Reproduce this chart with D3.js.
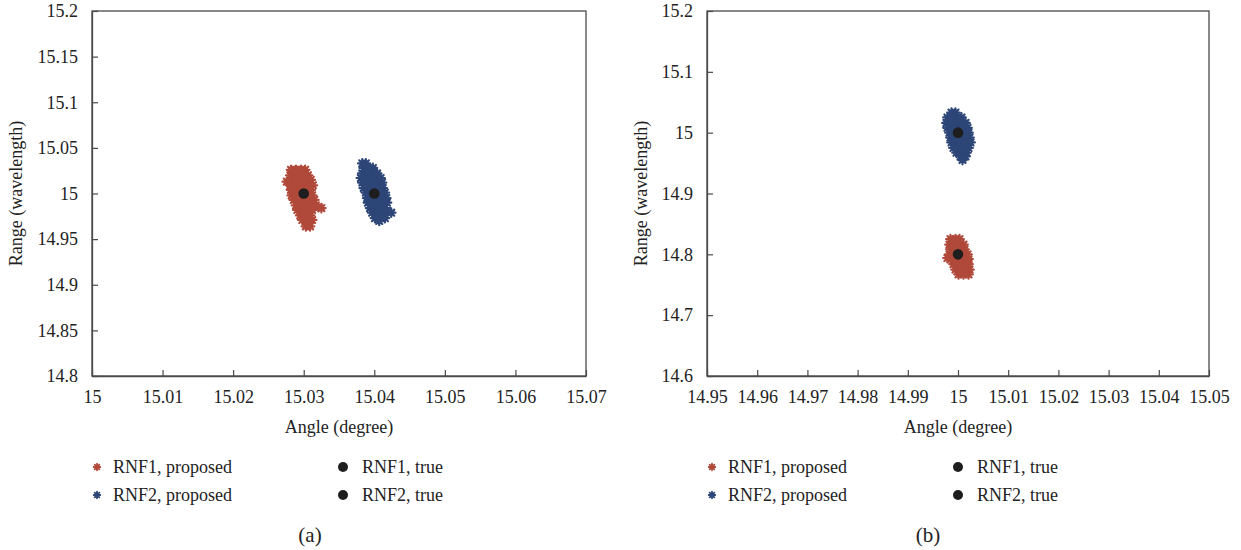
<!DOCTYPE html>
<html>
<head>
<meta charset="utf-8">
<script src="https://cdn.jsdelivr.net/npm/d3@7"></script>
<style>
  html, body { margin: 0; padding: 0; background: #fff; }
  svg text { font-family: "Liberation Serif", "Times New Roman", serif; fill: #222; }
</style>
</head>
<body>
<svg id="chart" width="1241" height="550"></svg>
<script>
// ---- Panel (a) ----
const xTicksA = [15, 15.01, 15.02, 15.03, 15.04, 15.05, 15.06, 15.07];
const xTickLabelsA = ["15", "15.01", "15.02", "15.03", "15.04", "15.05", "15.06", "15.07"];
const yTicksA = [14.8, 14.85, 14.9, 14.95, 15, 15.05, 15.1, 15.15, 15.2];
const yTickLabelsA = ["14.8", "14.85", "14.9", "14.95", "15", "15.05", "15.1", "15.15", "15.2"];

const rnf1ProposedA = [
  [15.0282, 15.026], [15.0289, 15.026], [15.0296, 15.026], [15.0302, 15.026],
  [15.0281, 15.020], [15.0288, 15.020], [15.0295, 15.020], [15.0302, 15.020], [15.0306, 15.020],
  [15.0283, 15.015], [15.0291, 15.015], [15.0298, 15.015], [15.0305, 15.015], [15.0310, 15.015],
  [15.0276, 15.013],
  [15.0281, 15.009], [15.0288, 15.009], [15.0295, 15.009], [15.0302, 15.009], [15.0309, 15.009], [15.0313, 15.009],
  [15.0282, 15.004], [15.0289, 15.004], [15.0296, 15.004], [15.0303, 15.004], [15.0310, 15.004],
  [15.0283, 14.998], [15.0291, 14.998], [15.0298, 14.998], [15.0305, 14.998], [15.0312, 14.998],
  [15.0286, 14.993], [15.0293, 14.993], [15.0300, 14.993], [15.0308, 14.993], [15.0315, 14.993],
  [15.0289, 14.987], [15.0296, 14.987], [15.0303, 14.987], [15.0310, 14.987], [15.0317, 14.987],
  [15.0321, 14.985], [15.0325, 14.984],
  [15.0291, 14.982], [15.0298, 14.982], [15.0305, 14.982], [15.0312, 14.982],
  [15.0295, 14.976], [15.0302, 14.976], [15.0309, 14.976],
  [15.0298, 14.971], [15.0305, 14.971], [15.0312, 14.971],
  [15.0303, 14.964], [15.0309, 14.964]
];
const rnf2ProposedA = [
  [15.0383, 15.033], [15.0388, 15.033],
  [15.0385, 15.028], [15.0391, 15.028], [15.0398, 15.028],
  [15.0383, 15.022], [15.0390, 15.022], [15.0397, 15.022], [15.0404, 15.022],
  [15.0381, 15.017], [15.0388, 15.017], [15.0395, 15.017], [15.0402, 15.017], [15.0409, 15.017],
  [15.0383, 15.012], [15.0390, 15.012], [15.0397, 15.012], [15.0404, 15.012], [15.0411, 15.012],
  [15.0385, 15.006], [15.0392, 15.006], [15.0400, 15.006], [15.0407, 15.006], [15.0412, 15.006],
  [15.0388, 15.001], [15.0395, 15.001], [15.0402, 15.001], [15.0409, 15.001], [15.0415, 15.001],
  [15.0390, 14.995], [15.0397, 14.995], [15.0404, 14.995], [15.0411, 14.995], [15.0417, 14.995],
  [15.0391, 14.990], [15.0398, 14.990], [15.0405, 14.990], [15.0412, 14.990], [15.0418, 14.990],
  [15.0394, 14.984], [15.0401, 14.984], [15.0408, 14.984], [15.0415, 14.984],
  [15.0418, 14.981],
  [15.0397, 14.979], [15.0404, 14.979], [15.0411, 14.979], [15.0424, 14.979],
  [15.0401, 14.973], [15.0408, 14.973], [15.0415, 14.973],
  [15.0407, 14.970]
];
const rnf1TrueA = [[15.03, 15.0]];
const rnf2TrueA = [[15.04, 15.0]];

// ---- Panel (b) ----
const xTicksB = [14.95, 14.96, 14.97, 14.98, 14.99, 15, 15.01, 15.02, 15.03, 15.04, 15.05];
const xTickLabelsB = ["14.95", "14.96", "14.97", "14.98", "14.99", "15", "15.01", "15.02", "15.03", "15.04", "15.05"];
const yTicksB = [14.6, 14.7, 14.8, 14.9, 15, 15.1, 15.2];
const yTickLabelsB = ["14.6", "14.7", "14.8", "14.9", "15", "15.1", "15.2"];

const rnf1ProposedB = [
  [14.9985, 14.825], [14.9995, 14.825], [15.0003, 14.825],
  [14.9983, 14.816], [14.9993, 14.816], [15.0003, 14.816], [15.0011, 14.816],
  [14.9985, 14.808], [14.9995, 14.808], [15.0005, 14.808], [15.0013, 14.808],
  [14.9983, 14.800], [14.9993, 14.800], [15.0003, 14.800], [15.0013, 14.800], [15.0019, 14.800],
  [14.9979, 14.794],
  [14.9985, 14.792], [14.9995, 14.792], [15.0005, 14.792], [15.0015, 14.792], [15.0021, 14.792],
  [14.9991, 14.784], [15.0001, 14.784], [15.0011, 14.784], [15.0021, 14.784],
  [14.9995, 14.775], [15.0005, 14.775], [15.0015, 14.775], [15.0023, 14.775],
  [15.0001, 14.767], [15.0011, 14.767], [15.0021, 14.767]
];
const rnf2ProposedB = [
  [14.9987, 15.033], [14.9995, 15.033],
  [14.9979, 15.025], [14.9989, 15.025], [14.9999, 15.025], [15.0007, 15.025],
  [14.9977, 15.016], [14.9987, 15.016], [14.9997, 15.016], [15.0007, 15.016], [15.0015, 15.016],
  [14.9979, 15.008], [14.9989, 15.008], [14.9999, 15.008], [15.0009, 15.008], [15.0019, 15.008],
  [14.9983, 15.000], [14.9993, 15.000], [15.0003, 15.000], [15.0013, 15.000], [15.0021, 15.000],
  [14.9985, 14.992], [14.9995, 14.992], [15.0005, 14.992], [15.0015, 14.992], [15.0023, 14.992],
  [14.9987, 14.984], [14.9997, 14.984], [15.0007, 14.984], [15.0017, 14.984], [15.0025, 14.984],
  [14.9991, 14.975], [15.0001, 14.975], [15.0011, 14.975], [15.0021, 14.975],
  [14.9997, 14.967], [15.0007, 14.967], [15.0017, 14.967],
  [15.0005, 14.961], [15.0015, 14.961],
  [15.0009, 14.955]
];
const rnf1TrueB = [[15.0, 14.8]];
const rnf2TrueB = [[15.0, 15.0]];

const seriesNames = ["RNF1, proposed", "RNF2, proposed", "RNF1, true", "RNF2, true"];
const red = "#b0493a";
const blue = "#2d4677";
const dark = "#1e1e1e";
const axisColor = "#4a4a4a";
const fontSize = 18;

const svg = d3.select("#chart");

// eight-armed asterisk used for the estimated positions
function asteriskPath(r) {
  const p = d3.path();
  for (let k = 0; k < 4; k++) {
    const a = k * Math.PI / 4;
    p.moveTo(-r * Math.cos(a), -r * Math.sin(a));
    p.lineTo(r * Math.cos(a), r * Math.sin(a));
  }
  return p.toString();
}

function drawPanel(cfg) {
  const g = svg.append("g");
  const x = d3.scaleLinear().domain(cfg.xDomain).range([cfg.left, cfg.right]);
  const y = d3.scaleLinear().domain(cfg.yDomain).range([cfg.bottom, cfg.top]);

  // frame
  g.append("rect")
    .attr("x", cfg.left).attr("y", cfg.top)
    .attr("width", cfg.right - cfg.left).attr("height", cfg.bottom - cfg.top)
    .attr("fill", "none").attr("stroke", axisColor).attr("stroke-width", 1.3);

  // bottom axis, ticks pointing inward
  const xAxis = d3.axisBottom(x).tickValues(cfg.xTicks)
    .tickFormat((d, i) => cfg.xLabels[i]).tickSizeInner(-6).tickSizeOuter(0).tickPadding(14);
  const gx = g.append("g").attr("transform", `translate(0,${cfg.bottom})`).call(xAxis);
  gx.select(".domain").attr("stroke", axisColor).attr("stroke-width", 1.3);
  gx.selectAll(".tick line").attr("stroke", axisColor).attr("stroke-width", 1.2);
  gx.selectAll(".tick text").style("font-size", fontSize + "px").attr("fill", "#222");

  // left axis, ticks pointing inward
  const yAxis = d3.axisLeft(y).tickValues(cfg.yTicks)
    .tickFormat((d, i) => cfg.yLabels[i]).tickSizeInner(-6).tickSizeOuter(0).tickPadding(14);
  const gy = g.append("g").attr("transform", `translate(${cfg.left},0)`).call(yAxis);
  gy.select(".domain").attr("stroke", axisColor).attr("stroke-width", 1.3);
  gy.selectAll(".tick line").attr("stroke", axisColor).attr("stroke-width", 1.2);
  gy.selectAll(".tick text").style("font-size", fontSize + "px").attr("fill", "#222");

  // axis titles
  g.append("text")
    .attr("x", (cfg.left + cfg.right) / 2).attr("y", cfg.bottom + 57)
    .attr("text-anchor", "middle").style("font-size", fontSize + "px")
    .text("Angle (degree)");
  g.append("text")
    .attr("transform", `translate(${cfg.left - cfg.yTitleOffset},${(cfg.top + cfg.bottom) / 2}) rotate(-90)`)
    .attr("text-anchor", "middle").style("font-size", fontSize + "px")
    .text("Range (wavelength)");

  const star = asteriskPath(4.3);
  const drawStars = (data, color) => {
    g.append("g").selectAll("path").data(data).join("path")
      .attr("d", star)
      .attr("transform", d => `translate(${x(d[0])},${y(d[1])})`)
      .attr("fill", "none").attr("stroke", color)
      .attr("stroke-width", 2.2).attr("stroke-linecap", "round");
  };
  drawStars(cfg.p1, red);
  drawStars(cfg.p2, blue);

  const drawDots = (data) => {
    g.append("g").selectAll("circle").data(data).join("circle")
      .attr("cx", d => x(d[0])).attr("cy", d => y(d[1]))
      .attr("r", 5.3).attr("fill", dark);
  };
  drawDots(cfg.t1);
  drawDots(cfg.t2);

  // legend
  const lg = g.append("g");
  const col1 = cfg.left + 5, col2 = cfg.left + 251;
  const rows = [cfg.bottom + 91, cfg.bottom + 119];
  const smallStar = asteriskPath(3.3);
  [[red, 0], [blue, 1]].forEach(([c, i]) => {
    lg.append("path").attr("d", smallStar)
      .attr("transform", `translate(${col1},${rows[i]})`)
      .attr("fill", "none").attr("stroke", c).attr("stroke-width", 1.8).attr("stroke-linecap", "round");
    lg.append("text").attr("x", col1 + 16).attr("y", rows[i] + 6)
      .style("font-size", fontSize + "px").text(seriesNames[i]);
  });
  [0, 1].forEach(i => {
    lg.append("circle").attr("cx", col2).attr("cy", rows[i]).attr("r", 5).attr("fill", dark);
    lg.append("text").attr("x", col2 + 19).attr("y", rows[i] + 6)
      .style("font-size", fontSize + "px").text(seriesNames[i + 2]);
  });

  g.append("text")
    .attr("x", cfg.captionX).attr("y", 542)
    .attr("text-anchor", "middle").style("font-size", "21px")
    .text(cfg.caption);
}

drawPanel({
  left: 92, right: 586, top: 11, bottom: 376,
  xDomain: [15, 15.07], yDomain: [14.8, 15.2],
  xTicks: xTicksA, xLabels: xTickLabelsA, yTicks: yTicksA, yLabels: yTickLabelsA,
  p1: rnf1ProposedA, p2: rnf2ProposedA, t1: rnf1TrueA, t2: rnf2TrueA,
  caption: "(a)", captionX: 310, yTitleOffset: 70
});

drawPanel({
  left: 707, right: 1209, top: 11, bottom: 376,
  xDomain: [14.95, 15.05], yDomain: [14.6, 15.2],
  xTicks: xTicksB, xLabels: xTickLabelsB, yTicks: yTicksB, yLabels: yTickLabelsB,
  p1: rnf1ProposedB, p2: rnf2ProposedB, t1: rnf1TrueB, t2: rnf2TrueB,
  caption: "(b)", captionX: 928, yTitleOffset: 60
});
</script>
</body>
</html>
